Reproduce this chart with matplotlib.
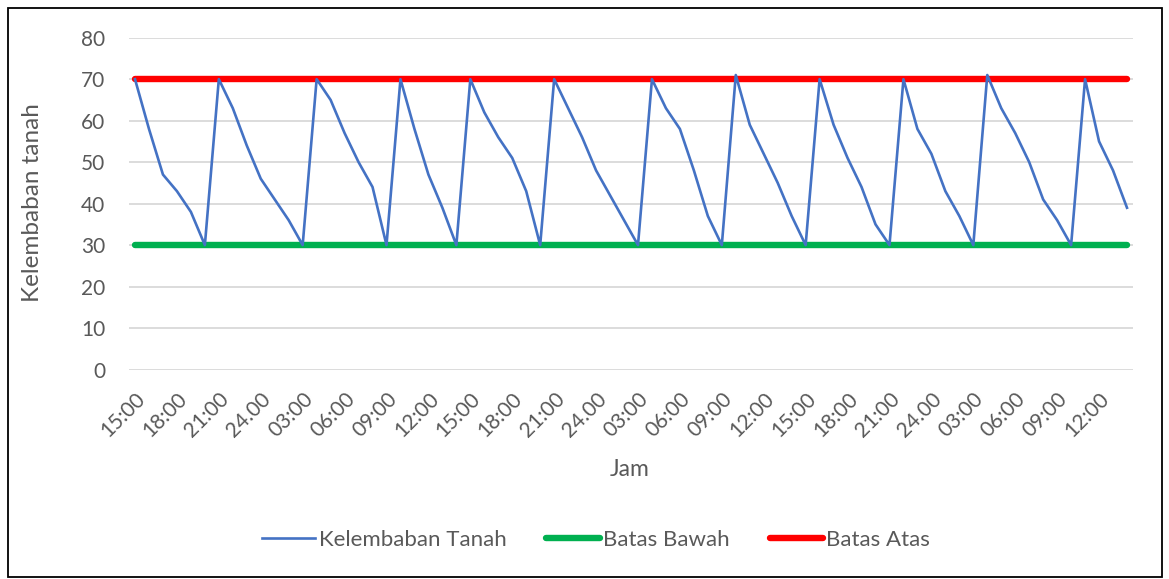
import matplotlib.pyplot as plt
from matplotlib.patches import Rectangle
from matplotlib.lines import Line2D

# soil moisture readings, one per hour
kelembaban = [70, 58, 47, 43, 38, 30,
              70, 63, 54, 46, 41, 36, 30,
              70, 65, 57, 50, 44, 30,
              70, 58, 47, 39, 30,
              70, 62, 56, 51, 43, 30,
              70, 63, 56, 48, 42, 36, 30,
              70, 63, 58, 48, 37, 30,
              71, 59, 52, 45, 37, 30,
              70, 59, 51, 44, 35, 30,
              70, 58, 52, 43, 37, 30,
              71, 63, 57, 50, 41, 36, 30,
              70, 55, 48, 39]
batas_bawah = 30
batas_atas = 70
jam_labels = ['15:00', '18:00', '21:00', '24.00', '03:00', '06:00', '09:00', '12:00'] * 3
label_step = 3

plt.rcParams['font.family'] = ['Lato', 'DejaVu Sans']
text_col = '#595959'

fig = plt.figure(figsize=(11.69, 5.79), dpi=100)
ax = fig.add_axes([129 / 1169, 1 - 369.5 / 579, 1004 / 1169, 331.8 / 579])

x = list(range(len(kelembaban)))
ax.plot(x, kelembaban, color='#4472c4', lw=1.9, zorder=3)
ax.plot(x, [batas_bawah] * len(x), color='#00b050', lw=4.6, solid_capstyle='round', zorder=2)
ax.plot(x, [batas_atas] * len(x), color='#ff0000', lw=4.6, solid_capstyle='round', zorder=2)

ax.set_xlim(-0.43, len(x) - 1 + 0.43)
ax.set_ylim(0, 80)
ax.set_yticks(range(0, 81, 10))
ax.set_xticks(x[::label_step])
ax.set_xticklabels(jam_labels, rotation=45, ha='right', va='top', rotation_mode='anchor')
ax.tick_params(axis='both', length=0, labelsize=15, labelcolor=text_col)
ax.tick_params(axis='x', pad=14)
ax.tick_params(axis='y', pad=17)
ax.grid(axis='y', color='#d9d9d9', lw=1.3)
ax.set_axisbelow(True)
for s in ax.spines.values():
    s.set_visible(False)

fig.text(33 / 1169, 1 - 203 / 579, 'Kelembaban tanah', rotation=90, ha='center', va='center',
         fontsize=17.5, color=text_col)
fig.text(630 / 1169, 1 - 470 / 579, 'Jam', ha='center', va='center', fontsize=16.5, color=text_col)

handles = [Line2D([], [], color='#4472c4', lw=1.9),
           Line2D([], [], color='#00b050', lw=4.6, solid_capstyle='round'),
           Line2D([], [], color='#ff0000', lw=4.6, solid_capstyle='round')]
leg = fig.legend(handles, ['Kelembaban Tanah', 'Batas Bawah', 'Batas Atas'], loc='center',
                 bbox_to_anchor=(596 / 1169, 1 - 540 / 579), ncol=3, frameon=False,
                 fontsize=16, handlelength=2.4, handletextpad=0.15, columnspacing=1.8)
for t in leg.get_texts():
    t.set_color(text_col)

fig.patches.append(Rectangle((8 / 1169, 2 / 579), 1154 / 1169, 569 / 579, transform=fig.transFigure,
                             fill=False, edgecolor='#000000', lw=1.3))

fig.savefig('out.png', dpi=100)
